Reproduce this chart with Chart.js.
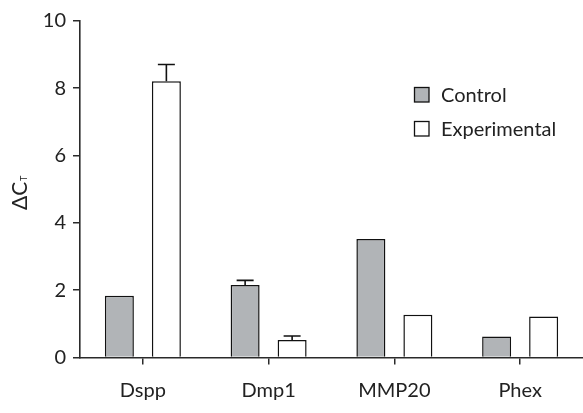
<!DOCTYPE html>
<html>
<head>
<meta charset="utf-8">
<script src="https://cdn.jsdelivr.net/npm/chart.js@4"></script>
<style>
html,body{margin:0;padding:0;background:#fff;}
#wrap{width:583px;height:413px;}
</style>
</head>
<body>
<div id="wrap"><canvas id="c" width="583" height="413"></canvas></div>
<script>
const categories = ['Dspp', 'Dmp1', 'MMP20', 'Phex'];
const controlValues = [1.83, 2.15, 3.52, 0.62];
const controlErrors = [0, 0.14, 0, 0];
const experimentalValues = [8.2, 0.52, 1.27, 1.22];
const experimentalErrors = [0.5, 0.12, 0, 0];
const yTicks = [0, 2, 4, 6, 8, 10];
const seriesNames = ['Control', 'Experimental'];

const FONT = 'Lato, "Liberation Sans", sans-serif';
const TEXT = '#222';
const LINE = '#2a2a2a';

const errorBars = {
  id: 'errorBars',
  afterDatasetsDraw(chart) {
    const ctx = chart.ctx;
    const y = chart.scales.y;
    chart.data.datasets.forEach((ds, i) => {
      const meta = chart.getDatasetMeta(i);
      meta.data.forEach((bar, j) => {
        const e = ds.errors[j];
        if (!e) return;
        const top = y.getPixelForValue(ds.data[j] + e);
        const base = y.getPixelForValue(ds.data[j]);
        ctx.save();
        ctx.strokeStyle = '#111';
        ctx.lineWidth = 1.6;
        ctx.beginPath();
        ctx.moveTo(bar.x, base);
        ctx.lineTo(bar.x, top);
        ctx.moveTo(bar.x - 8.5, top);
        ctx.lineTo(bar.x + 8.5, top);
        ctx.stroke();
        ctx.restore();
      });
    });
  }
};

const customText = {
  id: 'customText',
  afterDraw(chart) {
    const ctx = chart.ctx;
    const area = chart.chartArea;
    // y-axis title with subscript
    ctx.save();
    ctx.fillStyle = TEXT;
    ctx.translate(27, (area.top + area.bottom) / 2 + 4);
    ctx.rotate(-Math.PI / 2);
    ctx.font = '21px ' + FONT;
    ctx.textBaseline = 'alphabetic';
    ctx.textAlign = 'left';
    const main = '\u0394C';
    const w = ctx.measureText(main).width;
    const sub = 'T';
    ctx.font = '9px ' + FONT;
    const ws = ctx.measureText(sub).width;
    const total = w + ws;
    ctx.font = '21px ' + FONT;
    ctx.fillText(main, -total / 2, 0);
    ctx.font = '9px ' + FONT;
    ctx.fillText(sub, -total / 2 + w + 0.5, 0);
    ctx.restore();

    // legend
    ctx.save();
    const rows = [
      { y: 87.5, fill: chart.data.datasets[0].backgroundColor, label: seriesNames[0] },
      { y: 121.5, fill: chart.data.datasets[1].backgroundColor, label: seriesNames[1] }
    ];
    rows.forEach(r => {
      ctx.fillStyle = r.fill;
      ctx.fillRect(414.5, r.y, 14.5, 14.5);
      ctx.strokeStyle = '#111';
      ctx.lineWidth = 1.3;
      ctx.strokeRect(414.5, r.y, 14.5, 14.5);
      ctx.fillStyle = TEXT;
      ctx.font = '20px ' + FONT;
      ctx.textBaseline = 'alphabetic';
      ctx.textAlign = 'left';
      ctx.fillText(r.label, 441, r.y + 14.5);
    });
    ctx.restore();
  }
};

new Chart(document.getElementById('c'), {
  type: 'bar',
  data: {
    labels: categories,
    datasets: [
      {
        label: seriesNames[0],
        data: controlValues,
        errors: controlErrors,
        backgroundColor: '#b1b4b7',
        borderColor: '#111',
        borderWidth: 1.5,
        categoryPercentage: 0.7475,
        barPercentage: 0.617
      },
      {
        label: seriesNames[1],
        data: experimentalValues,
        errors: experimentalErrors,
        backgroundColor: '#ffffff',
        borderColor: '#111',
        borderWidth: 1.5,
        categoryPercentage: 0.7475,
        barPercentage: 0.617
      }
    ]
  },
  options: {
    responsive: false,
    animation: false,
    devicePixelRatio: 1,
    layout: { padding: { top: 20.7, left: 0, right: 0, bottom: 0 } },
    plugins: {
      legend: { display: false },
      tooltip: { enabled: false },
      title: { display: false }
    },
    scales: {
      x: {
        offset: true,
        grid: {
          offset: false,
          drawOnChartArea: false,
          drawTicks: true,
          tickLength: 7,
          color: LINE,
          lineWidth: 1.5
        },
        border: { display: true, color: LINE, width: 1.6 },
        ticks: {
          color: TEXT,
          font: { family: FONT, size: 20 },
          padding: 14,
          maxRotation: 0,
          autoSkip: false
        },
        afterFit(scale) { scale.height = 55.5; }
      },
      y: {
        min: 0,
        max: 10,
        afterBuildTicks(scale) { scale.ticks = yTicks.map(v => ({ value: v })); },
        grid: {
          drawOnChartArea: false,
          drawTicks: true,
          tickLength: 7,
          color: LINE,
          lineWidth: 1.5
        },
        border: { display: true, color: LINE, width: 1.6 },
        ticks: {
          color: TEXT,
          font: { family: FONT, size: 20 },
          padding: 7
        },
        afterFit(scale) { scale.width = 80; }
      }
    }
  },
  plugins: [errorBars, customText]
});
</script>
</body>
</html>
